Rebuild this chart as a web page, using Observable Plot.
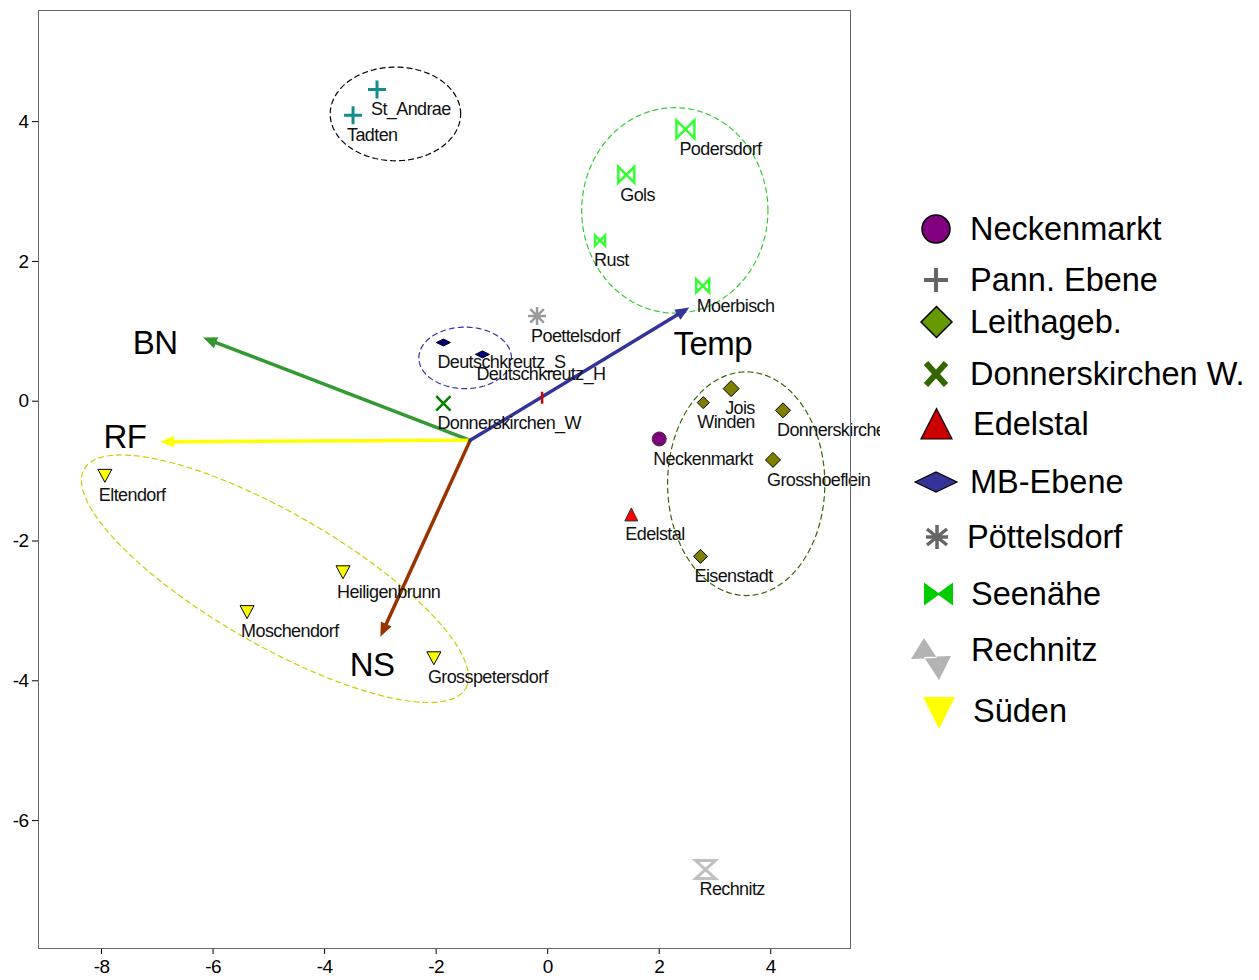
<!DOCTYPE html>
<html><head><meta charset="utf-8">
<script src="https://cdn.jsdelivr.net/npm/d3@7"></script>
<script src="https://cdn.jsdelivr.net/npm/@observablehq/plot@0.6"></script>
<style>
body{margin:0;background:#fff;font-family:"Liberation Sans",Arial,sans-serif;}
#wrap{position:relative;width:1259px;height:980px;}
#chart svg text{letter-spacing:-0.6px;}
#legend{position:absolute;left:880px;top:0;}
</style></head><body>
<div id="wrap"><div id="chart"></div><svg id="legend" width="379" height="980"></svg></div>
<script>
// ---------- data ----------
const stationNames = ["St_Andrae","Tadten","Podersdorf","Gols","Rust","Moerbisch","Poettelsdorf","Deutschkreutz_S","Deutschkreutz_H","Donnerskirchen_W","Neckenmarkt","Winden","Jois","Donnerskirchen","Grosshoeflein","Eisenstadt","Edelstal","Rechnitz","Eltendorf","Heiligenbrunn","Moschendorf","Grosspetersdorf"];
const stationGroups = ["Pann. Ebene","Pann. Ebene","Seenähe","Seenähe","Seenähe","Seenähe","Pöttelsdorf","MB-Ebene","MB-Ebene","Donnerskirchen W.","Neckenmarkt","Leithageb.","Leithageb.","Leithageb.","Leithageb.","Leithageb.","Edelstal","Rechnitz","Süden","Süden","Süden","Süden"];
const scoreX = [-3.06,-3.49,2.47,1.41,0.94,2.78,-0.19,-1.87,-1.17,-1.87,2.00,2.79,3.29,4.22,4.04,2.74,1.50,2.83,-7.94,-3.67,-5.39,-2.04];
const scoreY = [4.46,4.09,3.89,3.24,2.30,1.65,1.22,0.84,0.67,-0.03,-0.54,-0.02,0.18,-0.13,-0.84,-2.22,-1.62,-6.70,-1.06,-2.44,-3.01,-3.67];

// unlabeled small marker
const extraX = [-0.10];
const extraY = [0.05];

// environmental vectors
const vectorNames = ["BN","RF","NS","Temp"];
const vectorX = [-6.18,-6.95,-3.00,2.54];
const vectorY = [0.91,-0.58,-3.37,1.34];
const vectorOrigin = [-1.39,-0.56];
const vectorLabelX = [-7.04,-7.58,-3.15,2.96];
const vectorLabelY = [0.82,-0.52,-3.78,0.81];

// group ellipses (centre + conjugate semi-axis vectors, data units)
const ellipseCx = [-2.73, 2.28, -1.48, 3.56, -4.89];
const ellipseCy = [4.11, 2.73, 0.62, -1.18, -2.54];
const ellipseAx = [1.17, 1.67, 0.83, 1.41, 3.42];
const ellipseAy = [0, 0, 0, 0, -1.57];
const ellipseBx = [0, 0, 0, 0, 0.59];
const ellipseBy = [0.67, 1.47, 0.44, 1.60, 0.82];

const xTicks = [-8,-6,-4,-2,0,2,4];
const yTicks = [-6,-4,-2,0,2,4];
const legendItems = ["Neckenmarkt","Pann. Ebene","Leithageb.","Donnerskirchen W.","Edelstal","MB-Ebene","Pöttelsdorf","Seenähe","Rechnitz","Süden"];

// ---------- styles ----------
const font = '"Liberation Sans", Arial, sans-serif';
const sym = f => ({draw(c, size){ const r = Math.sqrt(size/Math.PI); f(c, r); }});
const bowtieOutline = sym((c,r)=>{c.moveTo(-r,-r);c.lineTo(-r,r);c.lineTo(r,-r);c.lineTo(r,r);c.closePath();});
const hourglass = sym((c,r)=>{c.moveTo(-r*1.1,-r);c.lineTo(r*1.1,-r);c.lineTo(-r*1.1,r);c.lineTo(r*1.1,r);c.closePath();});
const flatDiamond = sym((c,r)=>{c.moveTo(-r,0);c.lineTo(0,-r*0.5);c.lineTo(r,0);c.lineTo(0,r*0.5);c.closePath();});
const diamondS = sym((c,r)=>{c.moveTo(-r,0);c.lineTo(0,-r);c.lineTo(r,0);c.lineTo(0,r);c.closePath();});
const triUp = sym((c,r)=>{c.moveTo(0,-r);c.lineTo(r,r);c.lineTo(-r,r);c.closePath();});
const triDown = sym((c,r)=>{c.moveTo(-r,-r*0.85);c.lineTo(r,-r*0.85);c.lineTo(0,r);c.closePath();});
const plusS = sym((c,r)=>{c.moveTo(-r,0);c.lineTo(r,0);c.moveTo(0,-r);c.lineTo(0,r);});
const timesS = sym((c,r)=>{const k=r*0.8;c.moveTo(-k,-k);c.lineTo(k,k);c.moveTo(-k,k);c.lineTo(k,-k);});
const asteriskS = sym((c,r)=>{const k=r*0.75;c.moveTo(-r,0);c.lineTo(r,0);c.moveTo(0,-r);c.lineTo(0,r);c.moveTo(-k,-k);c.lineTo(k,k);c.moveTo(-k,k);c.lineTo(k,-k);});
const vtick = sym((c,r)=>{c.moveTo(0,-r);c.lineTo(0,r);});
// arrow head: tip at the anchor point, pointing up before rotation
const headS = sym((c,r)=>{c.moveTo(0,0);c.lineTo(r*0.42,r);c.lineTo(-r*0.42,r);c.closePath();});

const groupStyle = {
  "Pann. Ebene": {symbol: plusS, fill:"none", stroke:"#148c8c", sw:3, r:9},
  "Seenähe": {symbol: bowtieOutline, fill:"none", stroke:"#33ff33", sw:2.5, r:8},
  "Pöttelsdorf": {symbol: asteriskS, fill:"none", stroke:"#999999", sw:2.5, r:9},
  "MB-Ebene": {symbol: flatDiamond, fill:"#000080", stroke:"#000", sw:1, r:7},
  "Donnerskirchen W.": {symbol: timesS, fill:"none", stroke:"#008000", sw:2.5, r:9},
  "Neckenmarkt": {symbol: d3.symbolCircle, fill:"#800080", stroke:"#333", sw:1, r:7},
  "Leithageb.": {symbol: diamondS, fill:"#808000", stroke:"#000", sw:1, r:7},
  "Edelstal": {symbol: triUp, fill:"#ff0000", stroke:"#333", sw:1, r:6.5},
  "Rechnitz": {symbol: hourglass, fill:"none", stroke:"#c0c0c0", sw:3, r:9},
  "Süden": {symbol: triDown, fill:"#ffff00", stroke:"#000", sw:1, r:7}
};
const sizeOverride = {"Podersdorf":9,"Gols":8,"Rust":5,"Moerbisch":6.5,"Winden":6,"Jois":8,"Donnerskirchen":7.5,"Grosshoeflein":7.5};
const vectorColors = ["#339933","#ffff00","#993300","#333399"];
const ellipseColors = ["#000000","#33cc33","#3333aa","#336600","#cccc00"];

// ---------- build ----------
const stations = stationNames.map((name,i)=>({name, group: stationGroups[i], x: scoreX[i], y: scoreY[i]}));
const vectors = vectorNames.map((name,i)=>({name, x: vectorX[i], y: vectorY[i], lx: vectorLabelX[i], ly: vectorLabelY[i], color: vectorColors[i]}));
const extras = extraX.map((x,i)=>({x, y: extraY[i]}));

function ellipsePoints(i){
  const n = 120;
  return d3.range(n+1).map(k=>{
    const t = 2*Math.PI*k/n;
    return {x: ellipseCx[i] + ellipseAx[i]*Math.cos(t) + ellipseBx[i]*Math.sin(t),
            y: ellipseCy[i] + ellipseAy[i]*Math.cos(t) + ellipseBy[i]*Math.sin(t)};
  });
}

const options = {
  width: 880, height: 980,
  marginLeft: 38, marginRight: 30, marginTop: 10, marginBottom: 32,
  style: {fontFamily: font, fontSize:"19px", background:"white", color:"black", overflow:"hidden"},
  x: {domain:[-9.13, 5.43], ticks: xTicks, tickFormat: d=>String(d), label:null, tickSize:6, tickPadding:5},
  y: {domain:[-7.83, 5.59], ticks: yTicks, tickFormat: d=>String(d), label:null, tickSize:6, tickPadding:4},
  r: {type:"identity"},
  color: {type:"identity"}
};

function buildMarks(headAngles){
  const marks = [];
  ellipseCx.forEach((_,i)=>{
    marks.push(Plot.line(ellipsePoints(i), {x:"x", y:"y", stroke: ellipseColors[i], strokeWidth:1.2, strokeDasharray:"5,4"}));
  });
  marks.push(Plot.arrow(vectors, {x1: ()=>vectorOrigin[0], y1: ()=>vectorOrigin[1], x2:"x", y2:"y", stroke:"color", strokeWidth:3.5, headLength:0, insetEnd:11}));
  if (headAngles) {
    marks.push(Plot.dot(vectors, {x:"x", y:"y", r:14, symbol: headS, fill:"color", stroke:"none", rotate: (d,i)=>headAngles[i]}));
  }
  Object.keys(groupStyle).forEach(g=>{
    const s = groupStyle[g];
    marks.push(Plot.dot(stations.filter(d=>d.group===g), {x:"x", y:"y", r: d => sizeOverride[d.name] ?? s.r, symbol: s.symbol, fill: s.fill, stroke: s.stroke, strokeWidth: s.sw}));
  });
  marks.push(Plot.dot(extras, {x:"x", y:"y", r:6, symbol: vtick, fill:"none", stroke:"#cc0000", strokeWidth:2.5}));
  marks.push(Plot.text(stations, {x:"x", y:"y", text:"name", textAnchor:"start", dx:-6, dy:20, fontSize:18, fill:"#111"}));
  marks.push(Plot.text(vectors, {x:"lx", y:"ly", text:"name", fontSize:33, fill:"#000"}));
  marks.push(Plot.frame({stroke:"#666", strokeWidth:1}));
  return marks;
}

// first pass to obtain the scales, then orient arrow heads in screen space
const base = Plot.plot({...options, marks: buildMarks(null)});
const sx = base.scale("x"), sy = base.scale("y");
const headAngles = vectors.map(v=>{
  const dx = sx.apply(v.x) - sx.apply(vectorOrigin[0]);
  const dy = sy.apply(v.y) - sy.apply(vectorOrigin[1]);
  return Math.atan2(dy, dx) * 180 / Math.PI + 90;
});
const chart = Plot.plot({...options, marks: buildMarks(headAngles)});
document.getElementById("chart").appendChild(chart);

// ---------- legend ----------
const L = d3.select("#legend");
const legendY = [229,280,322,374,424,482,537,594,650,711];
const legendTextX = [90,90,90,90,93,90,87,91,91,93];
const legendSymbols = {
  "Neckenmarkt": g=>g.append("circle").attr("cx",56).attr("cy",0).attr("r",14).attr("fill","#800080").attr("stroke","#000").attr("stroke-width",1.5),
  "Pann. Ebene": g=>g.append("path").attr("d","M44,0H68M56,-12V12").attr("stroke","#666").attr("stroke-width",4).attr("fill","none"),
  "Leithageb.": g=>g.append("path").attr("d","M41,0L56.5,-15.5L72,0L56.5,15.5Z").attr("fill","#669900").attr("stroke","#000").attr("stroke-width",1.5),
  "Donnerskirchen W.": g=>g.append("path").attr("d","M46,-11L66,11M46,11L66,-11").attr("stroke","#336600").attr("stroke-width",6).attr("fill","none"),
  "Edelstal": g=>g.append("path").attr("d","M56.5,-15.5L72,15L41,15Z").attr("fill","#cc0000").attr("stroke","#000").attr("stroke-width",1.2),
  "MB-Ebene": g=>g.append("path").attr("d","M35,0L56,-10L77,0L56,10Z").attr("fill","#333399").attr("stroke","#000").attr("stroke-width",1.2),
  "Pöttelsdorf": g=>g.append("path").attr("d","M57,-12V12M47,-8L67,8M47,8L67,-8M46,0H68").attr("stroke","#666").attr("stroke-width",3.5).attr("fill","none"),
  "Seenähe": g=>g.append("path").attr("d","M44,-11.5L58.5,-1L73,-11.5V11.5L58.5,1L44,11.5Z").attr("fill","#00cc00"),
  "Rechnitz": g=>g.append("path").attr("d","M44,-32L31,-11L57,-12Z M44,-13L71,-14L59,10Z").attr("fill","#b3b3b3").attr("transform","translate(0,20)"),
  "Süden": g=>g.append("path").attr("d","M43,-14L75,-14L59,18Z").attr("fill","#ffff00")
};
legendItems.forEach((name,i)=>{
  const g = L.append("g").attr("transform",`translate(0,${legendY[i]})`);
  legendSymbols[name](g);
  g.append("text").attr("x",legendTextX[i]).attr("y",0).attr("dy","0.35em")
   .attr("font-size",32.5).attr("font-family",font).attr("fill","#000").text(name);
});
</script>
</body></html>
